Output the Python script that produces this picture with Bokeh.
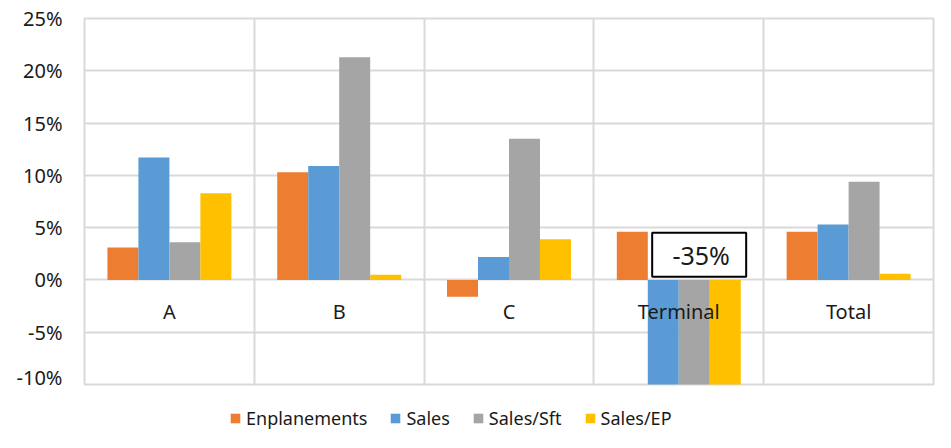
from bokeh.plotting import figure
from bokeh.models import ColumnDataSource, FixedTicker, PrintfTickFormatter, Legend, LegendItem
from bokeh.layouts import column
from bokeh.core.properties import value
from bokeh.embed import file_html
from bokeh.resources import INLINE

categories = ["A", "B", "C", "Terminal", "Total"]
series = ["Enplanements", "Sales", "Sales/Sft", "Sales/EP"]
enplanements = [3.1, 10.3, -1.6, 4.6, 4.6]
sales = [11.7, 10.9, 2.2, -35.0, 5.3]
sales_sft = [3.6, 21.3, 13.5, -40.0, 9.4]
sales_ep = [8.3, 0.5, 3.9, -37.9, 0.6]
y_ticks = [-10, -5, 0, 5, 10, 15, 20, 25]
colors = ["#ED7D31", "#5B9BD5", "#A5A5A5", "#FFC000"]
FONT = "Noto Sans"

p = figure(width=935, height=390, x_range=(0, len(categories)), y_range=(-10, 25),
           output_backend="svg", toolbar_location=None,
           min_border_left=84, min_border_right=2, min_border_top=18, min_border_bottom=6)
p.xaxis.visible = False
p.background_fill_color = "white"
p.border_fill_color = "white"
p.outline_line_color = "#d9d9d9"
p.outline_line_width = 2

p.xgrid.ticker = FixedTicker(ticks=list(range(len(categories) + 1)))
p.xgrid.grid_line_color = "#d9d9d9"
p.xgrid.grid_line_width = 2
p.ygrid.ticker = FixedTicker(ticks=y_ticks)
p.ygrid.grid_line_color = "#d9d9d9"
p.ygrid.grid_line_width = 2

ax = p.yaxis[0]
ax.ticker = FixedTicker(ticks=y_ticks)
ax.formatter = PrintfTickFormatter(format="%d%%")
ax.axis_line_color = None
ax.major_tick_line_color = None
ax.minor_tick_line_color = None
ax.major_tick_out = 0
ax.major_tick_in = 0
ax.major_label_standoff = 22
ax.major_label_text_font = FONT
ax.major_label_text_font_size = "20px"
ax.major_label_text_color = "#1a1a1a"

bar_w = 0.1825
for j, (name, vals) in enumerate(zip(series, [enplanements, sales, sales_sft, sales_ep])):
    xs = [i + 0.5 + (j - 1.5) * bar_w for i in range(len(categories))]
    src = ColumnDataSource(dict(x=xs, top=vals))
    p.vbar(x="x", top="top", bottom=0, width=bar_w, source=src,
           fill_color=colors[j], line_color=None)

# category labels
lab_src = ColumnDataSource(dict(x=[i + 0.5 for i in range(len(categories))],
                                y=[-3] * len(categories), t=categories))
p.text(x="x", y="y", text="t", source=lab_src, text_align="center", text_baseline="middle",
       text_font=value(FONT), text_font_size="20px", text_color="#1a1a1a")

# data label for Terminal Sales
ti = categories.index("Terminal")
lbl = ColumnDataSource(dict(x=[ti + 0.62], y=[2.4], t=[f"{sales[ti]:.0f}%"]))
p.rect(x="x", y="y", width=94, height=44, width_units="screen", height_units="screen",
       source=lbl, fill_color="white", line_color="black", line_width=2)
p.text(x="x", y="y", text="t", source=lbl, text_align="center", text_baseline="middle",
       text_font=value(FONT), text_font_size="25px", text_color="#1a1a1a", x_offset=2)

# legend figure (hidden proxy bars, off-range, only to carry legend swatches)
lf = figure(width=935, height=42, x_range=(0, 1), y_range=(0, 1),
            output_backend="svg", toolbar_location=None,
            min_border_left=0, min_border_right=0, min_border_top=0, min_border_bottom=0)
lf.axis.visible = False
lf.grid.visible = False
lf.outline_line_color = None
items = []
for j, name in enumerate(series):
    r = lf.vbar(x=[-5], top=[0], bottom=[0], width=0.1, fill_color=colors[j], line_color=None)
    items.append(LegendItem(label=name, renderers=[r]))
legend = Legend(items=items, orientation="horizontal", location=(145, 2),
                glyph_width=12, glyph_height=12, label_standoff=5, spacing=22,
                label_text_font=FONT, label_text_font_size="18px", label_text_color="#1a1a1a",
                border_line_color=None, background_fill_alpha=0, padding=0, margin=0)
lf.add_layout(legend, "center")

layout = column(p, lf, spacing=0)
open("out.html", "w").write(file_html(layout, INLINE))
